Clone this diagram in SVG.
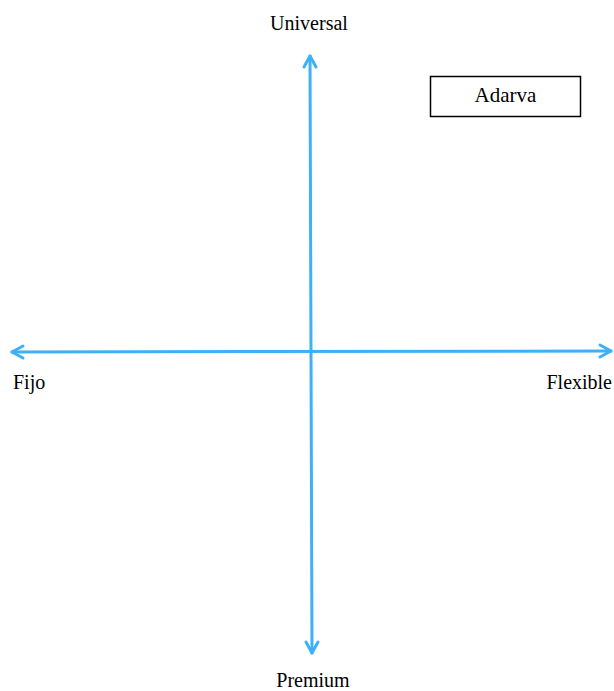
<svg xmlns="http://www.w3.org/2000/svg" width="614" height="691" viewBox="0 0 614 691">
<style>
text{font-family:"Liberation Serif","Times New Roman",serif;font-size:20px;fill:#000}
.ax{stroke:#3eb0f7;stroke-width:3;fill:none;stroke-linecap:round;stroke-linejoin:round}
</style>
<rect width="614" height="691" fill="#fff"/>
<g id="connectors">
<line class="ax" x1="310" y1="56" x2="312" y2="653"/>
<polyline class="ax" points="304,67 310,56 316,67"/>
<polyline class="ax" points="306,642 312,653 318,642"/>
<line class="ax" x1="12" y1="352" x2="611" y2="351"/>
<polyline class="ax" points="23,346 12,352 23,358"/>
<polyline class="ax" points="600,345 611,351 600,357"/>
</g>
<g id="universal"><text x="309" y="30" text-anchor="middle">Universal</text></g>
<g id="premium"><text x="313" y="687" text-anchor="middle">Premium</text></g>
<g id="fijo"><text x="13" y="389">Fijo</text></g>
<g id="flexible"><text x="612" y="389" text-anchor="end">Flexible</text></g>
<g id="adarva">
<rect x="430.5" y="76.5" width="150" height="40" fill="#fff" stroke="#000" stroke-width="1.5"/>
<text x="505.5" y="102" text-anchor="middle" style="font-size:21px">Adarva</text>
</g>
</svg>
